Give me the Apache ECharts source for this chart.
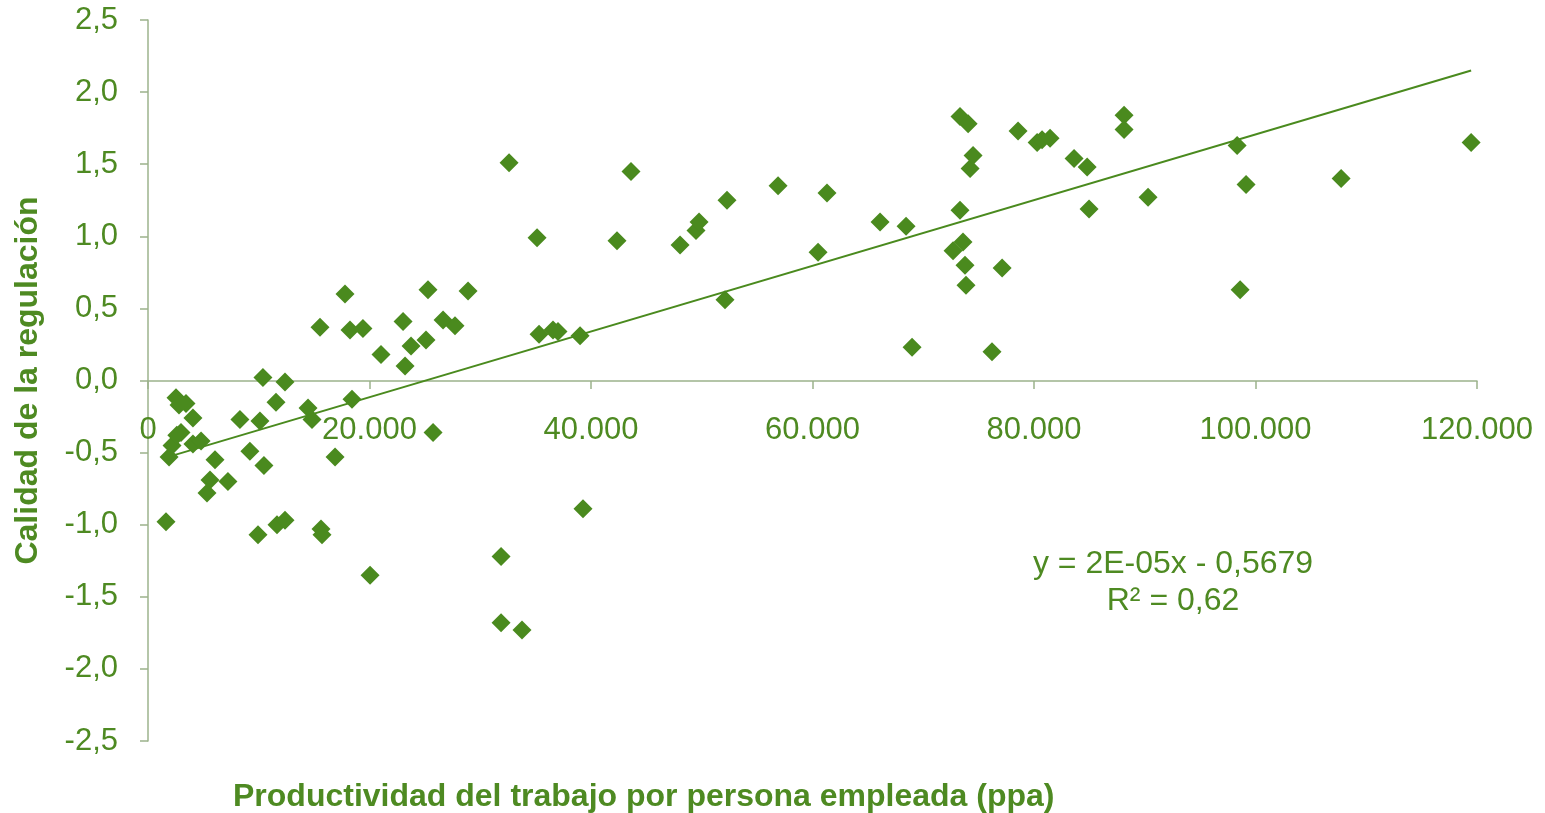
<!DOCTYPE html>
<html>
<head>
<meta charset="utf-8">
<script src="https://cdn.jsdelivr.net/npm/echarts@6/dist/echarts.min.js"></script>
<style>
  html, body { margin: 0; padding: 0; background: #fff; }
  #chart { width: 1545px; height: 813px; }
</style>
</head>
<body>
<div id="chart"></div>
<script>
// productividad (x) y calidad de la regulación (y)
var prodX = [1625, 1900, 2170, 2530, 2800, 2600, 2980, 3430, 4060, 4060,
  4790, 6050, 5600, 5330, 7220, 8300, 9200, 9930, 10110, 10380,
  10470, 11560, 11650, 12370, 12370, 14450, 14810, 15530, 15620, 15710,
  16890, 17790, 18240, 18420, 19410, 20050, 21040, 23030, 23210, 23750,
  25100, 25280, 25740, 26640, 27720, 28900, 31880, 31880, 32600, 33770,
  35130, 35310, 36570, 37020, 39010, 39280, 42350, 43610, 48040, 49480,
  49760, 52100, 52280, 56890, 60500, 61310, 66100, 68450, 68990, 72690,
  73320, 73320, 73590, 74050, 73770, 73860, 74230, 74500, 76210, 77120,
  78560, 80280, 80730, 81450, 83620, 84800, 84970, 88130, 88130, 90300,
  98340, 98610, 99150, 107730, 119470];
var calidadY = [-0.98, -0.53, -0.45, -0.12, -0.17, -0.38, -0.36, -0.16, -0.26, -0.44,
  -0.42, -0.55, -0.69, -0.78, -0.70, -0.27, -0.49, -1.07, -0.28, 0.02,
  -0.59, -0.15, -1.00, -0.97, -0.01, -0.19, -0.27, 0.37, -1.03, -1.07,
  -0.53, 0.60, 0.35, -0.13, 0.36, -1.35, 0.18, 0.41, 0.10, 0.24,
  0.28, 0.63, -0.36, 0.42, 0.38, 0.62, -1.22, -1.68, 1.51, -1.73,
  0.99, 0.32, 0.35, 0.34, 0.31, -0.89, 0.97, 1.45, 0.94, 1.04,
  1.10, 0.56, 1.25, 1.35, 0.89, 1.30, 1.10, 1.07, 0.23, 0.90,
  1.18, 1.83, 0.96, 1.78, 0.80, 0.66, 1.47, 1.56, 0.20, 0.78,
  1.73, 1.65, 1.67, 1.68, 1.54, 1.48, 1.19, 1.84, 1.74, 1.27,
  1.63, 0.63, 1.36, 1.40, 1.65];
// extremos de la línea de tendencia
var trendX = [1600, 119470];
var trendY = [-0.535, 2.15];
var ecuacion = 'y = 2E-05x - 0,5679';
var r2 = 'R² = 0,62';

var green = '#4a8a1e';
var textGreen = '#4e8a22';
var axisColor = '#9cb38c';
var font = '"Liberation Sans", Arial, sans-serif';

var points = prodX.map(function (x, i) { return [x, calidadY[i]]; });
var trend = trendX.map(function (x, i) { return [x, trendY[i]]; });

var chart = echarts.init(document.getElementById('chart'));
chart.setOption({
  animation: false,
  grid: { left: 148, right: 68, top: 20, bottom: 72, containLabel: false },
  xAxis: {
    type: 'value',
    min: 0,
    max: 120000,
    interval: 20000,
    position: 'bottom',
    offset: -360,
    splitLine: { show: false },
    axisLine: { onZero: false, lineStyle: { color: axisColor, width: 1.5 } },
    axisTick: { show: true, length: 8, lineStyle: { color: axisColor, width: 1.5 } },
    axisLabel: {
      margin: 34,
      color: textGreen,
      fontFamily: font,
      fontSize: 31,
      formatter: function (v) { return v === 0 ? '0' : (v / 1000) + '.000'; }
    }
  },
  yAxis: {
    type: 'value',
    min: -2.5,
    max: 2.5,
    interval: 0.5,
    name: 'Calidad de la regulación',
    nameLocation: 'middle',
    nameGap: 104,
    nameTextStyle: { color: textGreen, fontFamily: font, fontSize: 32, fontWeight: 'bold' },
    splitLine: { show: false },
    axisLine: { show: true, lineStyle: { color: axisColor, width: 1.5 } },
    axisTick: { show: true, length: 8, lineStyle: { color: axisColor, width: 1.5 } },
    axisLabel: {
      margin: 30,
      color: textGreen,
      fontFamily: font,
      fontSize: 31,
      formatter: function (v) { return v.toFixed(1).replace('.', ','); }
    }
  },
  graphic: [
    {
      type: 'text', left: 233, top: 781,
      style: { text: 'Productividad del trabajo por persona empleada (ppa)', fill: textGreen,
        font: 'bold 32px "Liberation Sans", Arial, sans-serif' }
    },
    {
      type: 'text', x: 1173, y: 546,
      style: { text: ecuacion + '\n' + r2, fill: textGreen, align: 'center', lineHeight: 37,
        font: '32px "Liberation Sans", Arial, sans-serif' }
    }
  ],
  series: [
    {
      type: 'scatter',
      data: points,
      symbol: 'diamond',
      symbolSize: 19,
      itemStyle: { color: green, opacity: 1 },
      z: 3
    },
    {
      type: 'line',
      data: trend,
      showSymbol: false,
      lineStyle: { color: green, width: 2 },
      z: 2
    }
  ]
});
</script>
</body>
</html>
